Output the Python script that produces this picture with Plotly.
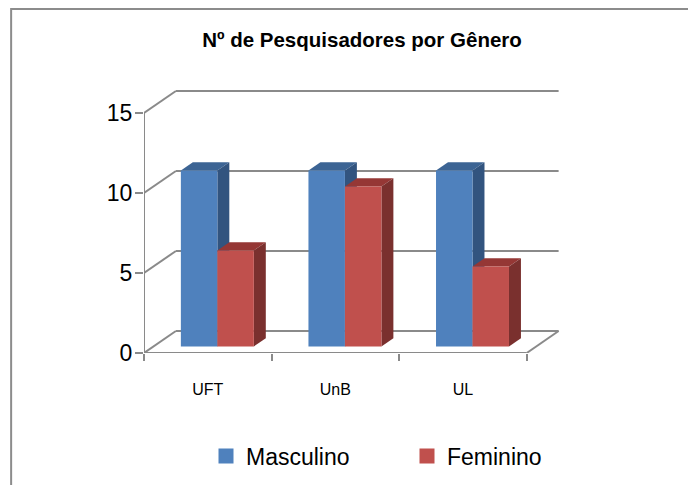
import plotly.graph_objects as go

# ---------------- data ----------------
categories = ["UFT", "UnB", "UL"]
masculino = [11, 11, 11]
feminino = [6, 10, 5]
series_names = ["Masculino", "Feminino"]
y_ticks = [0, 5, 10, 15]
title_text = "Nº de Pesquisadores por Gênero"

# ---------------- styling / geometry ----------------
W, H = 688, 485
X_MIN, X_MAX = -0.5, 2.8
Y_MAX = 16.75
DX, DY = 0.25, 1.375          # oblique depth offset (data units)
F0, F1 = 0.3, 0.675           # bar depth span (fraction of full depth)
BAR_W = 0.286
GRID = "#8a8a8a"
FRONT = ["#4F81BD", "#C0504D"]
TOP = ["#3C6494", "#953735"]
SIDE = ["#32547F", "#7A302E"]
FONT = "Liberation Sans, Arial, sans-serif"

L, T = 144, 85
PLOT_W = 127.7 * (X_MAX - X_MIN)
PLOT_H = 16 * Y_MAX
R = W - L - PLOT_W
B = H - T - PLOT_H

fig = go.Figure()
shapes = []

def line(x0, y0, x1, y1):
    shapes.append(dict(type="line", xref="x", yref="y", x0=x0, y0=y0, x1=x1, y1=y1,
                       line=dict(color=GRID, width=2), layer="below"))

n = len(categories)
# back wall gridlines + left wall diagonals
for g in y_ticks:
    line(-0.5 + DX, g + DY, n - 0.5 + DX, g + DY)
    line(-0.5, g, -0.5 + DX, g + DY)
# floor front edge, right diagonal, front vertical axis
line(-0.5, 0, n - 0.5, 0)
line(n - 0.5, 0, n - 0.5 + DX, DY)
line(-0.5, 0, -0.5, y_ticks[-1])

def poly(pts, color):
    path = "M " + " L ".join(f"{x},{y}" for x, y in pts) + " Z"
    shapes.append(dict(type="path", xref="x", yref="y", path=path,
                       fillcolor=color, line=dict(width=0), layer="below"))

ddx, ddy = (F1 - F0) * DX, (F1 - F0) * DY
y_base = F0 * DY
series = [masculino, feminino]
offsets = [-BAR_W + F0 * DX, F0 * DX]
for s, vals in enumerate(series):
    for i, v in enumerate(vals):
        a = i + offsets[s]
        b = a + BAR_W
        y0, y1 = y_base, y_base + v
        poly([(a, y1), (b, y1), (b + ddx, y1 + ddy), (a + ddx, y1 + ddy)], TOP[s])
        poly([(b, y0), (b, y1), (b + ddx, y1 + ddy), (b + ddx, y0 + ddy)], SIDE[s])

legend_ids = ["legend", "legend2"]
for s, vals in enumerate(series):
    fig.add_trace(go.Bar(
        x=categories, y=vals, base=y_base, width=BAR_W, offset=offsets[s],
        marker=dict(color=FRONT[s], line=dict(width=0)),
        name=series_names[s], showlegend=False, hoverinfo="skip"))
    fig.add_trace(go.Scatter(
        x=[None], y=[None], mode="markers", name=series_names[s],
        marker=dict(symbol="square", size=15, color=FRONT[s]), showlegend=True,
        legend=legend_ids[s]))

# outer chart frame (left and top edges only; the rest lies beyond the picture)
def px2paper_x(px):
    return (px - L) / PLOT_W
def px2paper_y(py):
    return (H - B - py) / PLOT_H
fx0, fy0 = px2paper_x(11), px2paper_y(9)
fx1, fy1 = px2paper_x(W + 10), px2paper_y(H + 10)
shapes.append(dict(type="path", xref="paper", yref="paper",
                   path=f"M {fx0},{fy1} L {fx0},{fy0} L {fx1},{fy0}",
                   line=dict(color="#8c8c8c", width=2), layer="below"))

legend_font = dict(family=FONT, size=23, color="black")
sq_centers = [226, 427]
leg_y = 1 - 456 / H

def legend_cfg(cx):
    return dict(orientation="h", x=(cx - 20) / W, xref="container", xanchor="left",
                y=leg_y, yref="container", yanchor="middle", font=legend_font,
                itemwidth=30, bgcolor="rgba(0,0,0,0)", borderwidth=0)

fig.update_layout(
    width=W, height=H,
    margin=dict(l=L, r=R, t=T, b=B, autoexpand=False),
    paper_bgcolor="white", plot_bgcolor="rgba(0,0,0,0)",
    barmode="overlay",
    shapes=shapes,
    title=dict(text="<b>" + title_text + "</b>", x=362 / W, xanchor="center",
               xref="container", y=1 - 40 / H, yref="container", yanchor="middle",
               font=dict(family=FONT, size=20.5, color="black")),
    xaxis=dict(type="category", categoryorder="array", categoryarray=categories,
               range=[X_MIN, X_MAX], tickson="boundaries", ticks="outside",
               ticklen=7, tickwidth=2, tickcolor=GRID, showgrid=False, showline=False,
               zeroline=False, ticklabelstandoff=25,
               tickfont=dict(family=FONT, size=16, color="black"), fixedrange=True),
    yaxis=dict(range=[0, Y_MAX], tickvals=y_ticks, ticks="outside", ticklen=8,
               tickwidth=2, tickcolor=GRID, showgrid=False, showline=False, zeroline=False,
               ticklabelstandoff=-2,
               tickfont=dict(family=FONT, size=23, color="black"), fixedrange=True),
    legend=legend_cfg(sq_centers[0]),
    legend2=legend_cfg(sq_centers[1]),
)

fig.write_html("out.html", config={"displayModeBar": False},
               post_script="document.body.style.margin='0';document.body.style.overflow='hidden';")
